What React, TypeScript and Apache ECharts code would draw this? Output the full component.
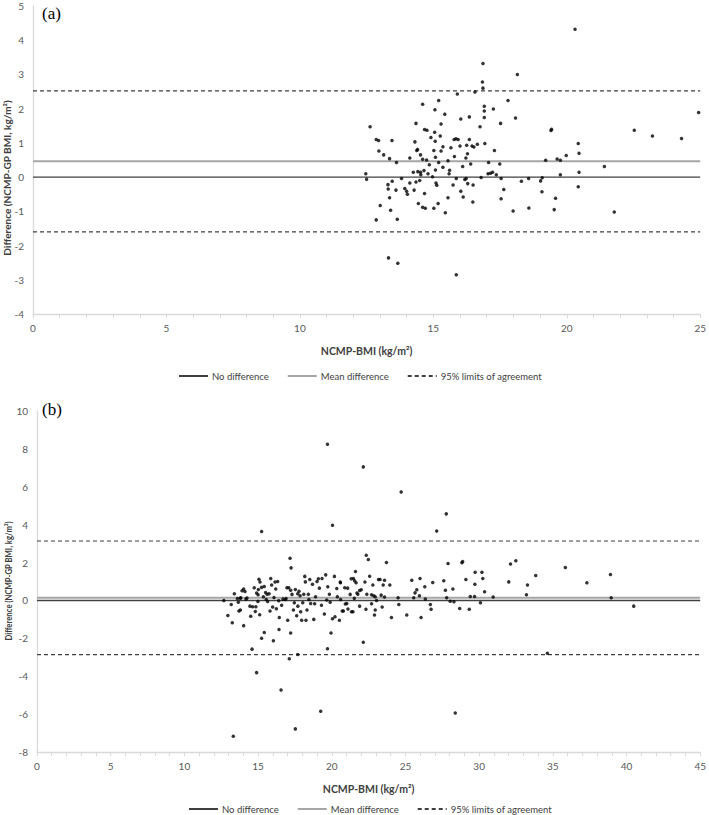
import React, { useEffect, useRef } from "react";
import * as echarts from "echarts";

// ---------- Panel (a) ----------
const A_BMI = [
  20.31, 16.86, 18.15, 16.84, 16.86, 16.56, 15.9, 17.8, 15.2, 14.6, 16.91, 15.06, 17.25, 16.91, 15.43, 24.94,
  16.91, 18.08, 16.03, 16.35, 15.29, 17.52, 12.63, 14.35, 16.75, 14.67, 14.76, 19.43, 19.41, 22.53, 15.05, 14.91,
  15.07, 15.26, 23.21, 24.3, 15.78, 15.85, 15.93, 16.35, 12.86, 12.95, 13.45, 14.31, 16.65, 16.93, 20.43, 16.25,
  16.45, 16.52, 16.0, 15.66, 15.36, 14.41, 14.38, 15.02, 15.29, 12.96, 17.29, 20.46, 13.14, 14.52, 16.28, 19.98,
  15.79, 15.08, 14.12, 16.22, 13.36, 14.75, 14.6, 19.64, 19.76, 19.21, 15.55, 13.62, 15.2, 17.07, 17.49, 14.85,
  16.4, 16.1, 15.36, 21.41, 14.25, 14.42, 14.52, 14.65, 14.53, 14.8, 15.08, 14.97, 15.59, 15.61, 17.05, 17.14,
  17.22, 17.36, 16.79, 12.47, 12.5, 20.46, 19.76, 13.81, 15.86, 16.18, 16.23, 17.54, 18.57, 19.08, 18.3, 19.02,
  13.46, 14.35, 14.49, 14.12, 15.1, 16.29, 13.3, 15.13, 15.74, 16.49, 20.43, 13.31, 13.6, 13.93, 14.0, 14.28,
  14.03, 16.03, 17.64, 19.07, 14.67, 16.12, 13.36, 15.55, 17.54, 19.58, 14.44, 15.18, 16.48, 13.01, 14.6, 14.7,
  15.02, 18.58, 19.53, 13.4, 15.45, 17.99, 21.78, 12.86, 13.65, 13.32, 13.67, 15.86,
];
const A_DIFF = [
  4.32, 3.32, 3.0, 2.78, 2.6, 2.49, 2.43, 2.24, 2.24, 2.13, 2.07, 1.97, 1.99, 1.93, 1.84, 1.89,
  1.74, 1.73, 1.7, 1.76, 1.55, 1.57, 1.47, 1.57, 1.47, 1.39, 1.37, 1.4, 1.36, 1.37, 1.31, 1.16,
  1.05, 1.2, 1.2, 1.13, 1.1, 1.12, 1.1, 1.1, 1.1, 1.07, 1.07, 1.03, 0.96, 0.98, 0.98, 0.93,
  0.91, 0.88, 0.91, 0.86, 0.89, 0.81, 0.78, 0.78, 0.76, 0.76, 0.78, 0.7, 0.65, 0.65, 0.68, 0.63,
  0.6, 0.58, 0.56, 0.56, 0.54, 0.5, 0.52, 0.53, 0.49, 0.49, 0.48, 0.43, 0.43, 0.43, 0.38, 0.36,
  0.38, 0.31, 0.29, 0.31, 0.14, 0.16, 0.14, 0.19, 0.07, 0.1, 0.21, 0.01, 0.1, 0.2, 0.1, 0.11,
  0.14, 0.07, -0.01, 0.1, -0.06, 0.14, 0.07, -0.04, -0.04, -0.07, -0.04, -0.04, -0.04, -0.02, -0.12, -0.11,
  -0.12, -0.14, -0.1, -0.17, -0.17, -0.19, -0.22, -0.24, -0.23, -0.23, -0.28, -0.35, -0.38, -0.33, -0.41, -0.38,
  -0.5, -0.41, -0.36, -0.43, -0.48, -0.58, -0.6, -0.6, -0.63, -0.62, -0.77, -0.77, -0.73, -0.83, -0.88, -0.91,
  -0.91, -0.9, -0.95, -0.97, -1.04, -0.99, -1.02, -1.25, -1.23, -2.36, -2.52, -2.85,
];
const A_MEAN = 0.46;
const A_UPPER = 2.52;
const A_LOWER = -1.6;
const A_X_MAX = 25;
const A_Y_MIN = -4;
const A_Y_MAX = 5;

// ---------- Panel (b) ----------
const B_BMI = [
  19.71, 22.14, 24.71, 27.77, 27.12, 20.05, 15.24, 17.17, 17.24, 22.34, 22.48, 14.59, 14.9, 15.42, 15.24, 16.04,
  16.42, 17.21, 17.12, 17.69, 16.56, 17.53, 19.25, 13.32, 19.71, 19.95, 22.14, 34.63, 28.38, 14.02,
  12.68, 12.95, 13.18, 13.25, 13.39, 13.66, 13.7, 13.82, 13.91, 14.02, 14.11, 14.18, 14.5, 14.63, 14.74, 14.81,
  14.85, 14.9, 15.02, 15.06, 15.13, 15.24, 14.99, 15.11, 15.36, 15.42, 15.51, 15.61, 15.65, 15.81, 15.86, 15.92,
  15.99, 16.08, 16.15, 16.24, 16.33, 16.4, 16.44, 16.6, 16.69, 16.85, 16.96, 17.01, 17.08, 17.21, 17.3, 17.4,
  17.46, 17.53, 17.62, 17.69, 17.78, 17.85, 17.89, 17.96, 18.03, 18.1, 18.17, 18.21, 18.25, 18.32, 18.41, 18.51,
  18.57, 18.69, 18.78, 18.84, 19.0, 19.09, 19.16, 19.34, 19.5, 19.59, 19.66, 19.73, 19.84, 19.89, 20.05, 20.18,
  20.22, 20.34, 20.38, 20.52, 20.59, 20.79, 20.88, 21.02, 21.25, 21.34, 21.47, 21.61, 21.65, 21.77,
  13.6, 13.8, 14.25, 14.45, 15.0, 15.55, 15.75, 16.2, 16.9, 17.7, 18.45, 18.9, 19.3, 20.6, 21.1, 13.8,
  20.58, 21.32, 21.55, 23.17, 23.28, 23.58, 23.94, 23.49, 22.79, 22.25, 22.0, 21.89, 21.08, 21.71, 22.38, 22.7,
  22.85, 22.95, 23.35, 23.58, 25.99, 25.43, 26.85, 27.6, 26.31, 25.77, 25.65, 25.95, 25.56, 24.5, 26.35, 27.71,
  28.22, 27.8, 28.04, 28.29, 29.1, 29.71, 30.37, 29.4, 29.69, 30.25, 30.09, 30.95, 32.01, 33.28, 33.21, 37.31,
  38.96, 40.49, 23.71, 27.89, 28.88, 28.83, 32.13, 32.49, 35.85, 38.91, 33.84, 29.73, 30.19, 22.57, 24.55, 26.69,
  26.74, 28.68, 29.33, 25.09, 26.06, 24.05, 22.9, 22.95, 22.32, 23.42, 22.7, 21.89, 21.44, 20.92, 20.71, 21.53,
  23.04,
];
const B_DIFF = [
  8.24, 7.05, 5.73, 4.57, 3.66, 3.97, 3.64, 2.23, 1.72, 2.39, 2.16, -2.57, -3.81, -1.69, -2.0, -2.13,
  -1.53, -1.72, -3.08, -2.85, -4.73, -6.78, -5.85, -7.17, -2.55, -1.72, -2.21, -2.79, -5.94, -1.33,
  0.0, -0.79, -0.21, -1.18, 0.35, -0.09, -0.56, 0.14, 0.51, 0.6, 0.47, 0.07, -0.83, -0.33, 0.67, -0.58,
  -0.33, 0.39, 0.58, 1.12, 0.97, 0.69, -0.05, -0.76, 0.19, 0.74, 0.42, 0.33, -0.05, -0.56, 1.16, 0.81,
  -0.35, 0.16, 0.97, -0.44, 1.0, -0.02, -0.9, -0.25, 0.07, 0.05, 0.67, -1.04, 0.67, 0.54, 0.32, -0.51,
  -0.12, 0.58, -0.81, 0.35, 0.49, 0.25, -0.6, -1.04, -0.12, 0.33, 1.27, 0.98, -1.04, -0.51, 0.33, 1.11,
  -0.16, 0.86, -1.0, -0.18, 1.0, 1.14, 0.65, 1.16, -0.72, 1.35, 0.02, 0.72, 0.33, -0.09, -0.97, 1.27,
  -0.86, 0.63, 0.19, -1.04, 0.93, -0.56, 0.67, -0.16, 0.32, -0.6, 1.16, 1.53, 0.93, 0.33,
  0.1, 0.12, 0.13, -0.3, 0.3, 0.05, 0.35, 0.6, 0.1, -0.3, 0.05, 0.2, -0.25, 0.05, -0.45, -0.5,
  0.97, 1.14, 1.04, 1.11, 1.11, 1.07, 0.81, 0.81, 0.81, 0.97, 0.56, 0.53, 0.65, 0.39, 0.33, 0.3,
  0.25, 0.2, 0.28, 0.18, 1.16, 1.07, 0.95, 1.04, 0.72, 0.56, 0.4, 0.25, 0.14, 0.14, 0.07, 0.54,
  0.6, 0.14, -0.04, -0.07, 1.11, 0.86, 0.46, 0.21, 0.21, 1.16, -0.12, 0.18, 0.98, 0.81, 0.3, 0.93,
  0.14, -0.3, 2.0, 1.95, 2.06, 1.99, 1.92, 2.09, 1.74, 1.37, 1.32, 1.49, 1.49, 1.28, -0.21, -0.21,
  -0.47, -0.42, -0.47, -0.77, -0.9, -0.9, -0.77, -0.51, -0.47, -0.35, -0.18, -0.3, -0.6, -0.19, -0.56, 0.11,
  0.0,
];
const B_MEAN = 0.14;
const B_UPPER = 3.14;
const B_LOWER = -2.86;
const B_X_MAX = 45;
const B_Y_MIN = -8;
const B_Y_MAX = 10;

const LEGEND_NAMES = ["No difference", "Mean difference", "95% limits of agreement"];
const X_NAME = "NCMP-BMI (kg/m²)";
const Y_NAME = "Difference (NCMP-GP BMI, kg/m²)";

const FONT = 'Lato, "Liberation Sans", sans-serif';
const AXIS_GRAY = "#d9d9d9";
const LABEL_GRAY = "#595959";

function xAxisCfg(gridIndex: number, max: number) {
  return {
    gridIndex,
    type: "value",
    min: 0,
    max,
    interval: 5,
    axisLine: { show: true, onZero: false, lineStyle: { color: AXIS_GRAY, width: 1.3 } },
    axisTick: { show: true, length: 4, lineStyle: { color: AXIS_GRAY } },
    minorTick: { show: true, splitNumber: 5, length: 4, lineStyle: { color: AXIS_GRAY } },
    splitLine: { show: false },
    axisLabel: { color: LABEL_GRAY, fontSize: 10, margin: 9, fontFamily: FONT },
    name: X_NAME,
    nameLocation: "middle",
    nameGap: 31,
    nameTextStyle: { color: "#404040", fontSize: 10.5, fontWeight: "bold", fontFamily: FONT },
  };
}

function yAxisCfg(gridIndex: number, min: number, max: number, interval: number) {
  return {
    gridIndex,
    type: "value",
    min,
    max,
    interval,
    axisLine: { show: true, onZero: false, lineStyle: { color: AXIS_GRAY, width: 1.3 } },
    axisTick: { show: false },
    splitLine: { show: false },
    axisLabel: { color: LABEL_GRAY, fontSize: 10, margin: 9, fontFamily: FONT },
  };
}

function refSeries(idx: number, xMax: number, mean: number, upper: number, lower: number) {
  const base = { type: "line", xAxisIndex: idx, yAxisIndex: idx, symbol: "none", silent: true, z: 2 };
  return [
    { ...base, name: LEGEND_NAMES[0], data: [[0, 0], [xMax, 0]], lineStyle: { color: "#404040", width: 1.4 }, itemStyle: { color: "#404040" } },
    { ...base, name: LEGEND_NAMES[1], data: [[0, mean], [xMax, mean]], lineStyle: { color: "#a6a6a6", width: 2 }, itemStyle: { color: "#a6a6a6" } },
    { ...base, name: LEGEND_NAMES[2], data: [[0, upper], [xMax, upper]], lineStyle: { color: "#404040", width: 1.1, type: [4, 3] }, itemStyle: { color: "#404040" } },
    { ...base, name: LEGEND_NAMES[2], data: [[0, lower], [xMax, lower]], lineStyle: { color: "#404040", width: 1.1, type: [4, 3] }, itemStyle: { color: "#404040" } },
  ];
}

function legendCfg(left: number, top: number) {
  return {
    data: LEGEND_NAMES,
    left,
    top,
    orient: "horizontal",
    itemWidth: 29,
    itemHeight: 8,
    itemGap: 18,
    selectedMode: false,
    itemStyle: { opacity: 0 },
    textStyle: { color: "#404040", fontSize: 9.5, fontFamily: FONT, padding: [0, 0, 0, -1] },
  };
}

const Y_NAME_FONT = 'bold 9px Lato, "Liberation Sans", sans-serif';

export default function App() {
  const ref = useRef<HTMLDivElement>(null);

  useEffect(() => {
    document.body.style.margin = "0";
    if (!ref.current) return;
    const chart = echarts.init(ref.current, null, { renderer: "svg" });

    const aData = A_BMI.map((x, i) => [x, A_DIFF[i]]);
    const bData = B_BMI.map((x, i) => [x, B_DIFF[i]]);

    chart.setOption({
      animation: false,
      backgroundColor: "#ffffff",
      grid: [
        { left: 33, top: 6, width: 668, height: 308 },
        { left: 37, top: 411, width: 665, height: 341 },
      ],
      xAxis: [xAxisCfg(0, A_X_MAX), xAxisCfg(1, B_X_MAX)],
      yAxis: [yAxisCfg(0, A_Y_MIN, A_Y_MAX, 1), yAxisCfg(1, B_Y_MIN, B_Y_MAX, 2)],
      legend: [legendCfg(173, 366), legendCfg(183, 799)],
      series: [
        ...refSeries(0, A_X_MAX, A_MEAN, A_UPPER, A_LOWER),
        ...refSeries(1, B_X_MAX, B_MEAN, B_UPPER, B_LOWER),
        { type: "scatter", name: "a-points", xAxisIndex: 0, yAxisIndex: 0, data: aData, symbolSize: 3.5, itemStyle: { color: "#000" }, z: 5 },
        { type: "scatter", name: "b-points", xAxisIndex: 1, yAxisIndex: 1, data: bData, symbolSize: 3.5, itemStyle: { color: "#000" }, z: 5 },
      ],
      graphic: [
        { type: "text", left: 42, top: 5, style: { text: "(a)", font: '17px "Liberation Serif", serif', fill: "#000" } },
        { type: "text", left: 42, top: 401, style: { text: "(b)", font: '17px "Liberation Serif", serif', fill: "#000" } },
        {
          type: "text", x: 8, y: 178, rotation: Math.PI / 2, scaleX: 1.12,
          style: { text: Y_NAME, font: Y_NAME_FONT, fill: "#404040", align: "center", verticalAlign: "middle" },
        },
        {
          type: "text", x: 9, y: 581, rotation: Math.PI / 2, scaleX: 0.86,
          style: { text: Y_NAME, font: Y_NAME_FONT, fill: "#404040", align: "center", verticalAlign: "middle" },
        },
      ],
    });

    return () => chart.dispose();
  }, []);

  return <div ref={ref} style={{ width: 709, height: 815 }} />;
}
